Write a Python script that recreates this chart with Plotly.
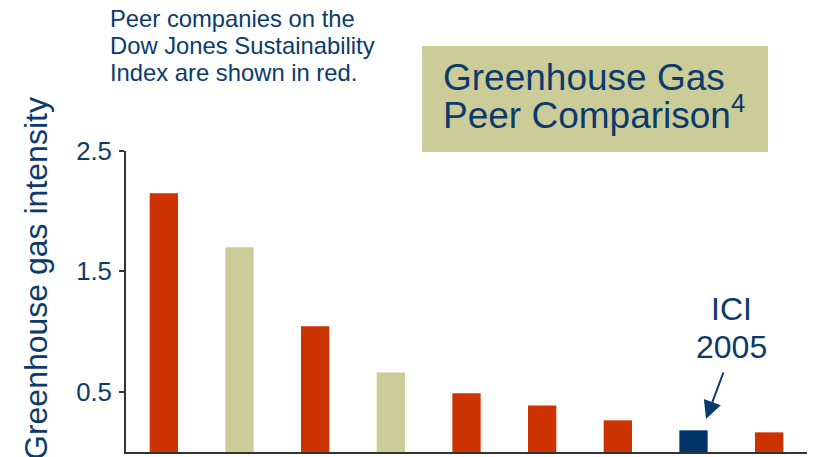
import plotly.graph_objects as go

# ---- data ----
companies = ["Peer 1", "Peer 2", "Peer 3", "Peer 4", "Peer 5", "Peer 6", "Peer 7", "ICI 2005", "Peer 9"]
intensity = [2.15, 1.70, 1.045, 0.66, 0.487, 0.387, 0.263, 0.18, 0.163]
group = ["dj", "other", "dj", "other", "dj", "dj", "dj", "ici", "dj"]
y_ticks = [0.5, 1.5, 2.5]
y_tick_labels = ["0.5", "1.5", "2.5"]

palette = {"dj": "#CC3300", "other": "#CCCC99", "ici": "#003366"}
TXT = "#0B3A6B"
FONT = "Liberation Sans, Arial, sans-serif"

# page body has an 8px default margin; compensate so page coords match the reference
OFF = 8
W, H = 817 - OFF, 457 - OFF
L, R, T, B = 126 - OFF, 10, 151 - OFF, 5
pw, ph = W - L - R, H - T - B


def px(x):
    return (x - OFF - L) / pw


def py(y):
    return (H - B - (y - OFF)) / ph


fig = go.Figure(go.Bar(
    x=companies, y=intensity,
    marker=dict(color=[palette[g] for g in group], line=dict(width=0)),
    hoverinfo="skip",
))

annotations = []
note_lines = ["Peer companies on the", "Dow Jones Sustainability", "Index are shown in red."]
for i, line in enumerate(note_lines):
    annotations.append(dict(text=line, xref="paper", yref="paper", x=px(108), y=py(18.5 + 27 * i),
                            xanchor="left", yanchor="middle", showarrow=False,
                            font=dict(size=23.8, color=TXT, family=FONT)))
annotations.append(dict(text="Greenhouse Gas", xref="paper", yref="paper", x=px(441), y=py(77.2),
                        xanchor="left", yanchor="middle", showarrow=False,
                        font=dict(size=37, color=TXT, family=FONT)))
annotations.append(dict(text="Peer Comparison<sup>4</sup>", xref="paper", yref="paper", x=px(441), y=py(112.5),
                        xanchor="left", yanchor="middle", showarrow=False,
                        font=dict(size=37, color=TXT, family=FONT)))
annotations.append(dict(text="ICI", xref="paper", yref="paper", x=px(731), y=py(309),
                        xanchor="center", yanchor="middle", showarrow=False,
                        font=dict(size=32, color=TXT, family=FONT)))
annotations.append(dict(text="2005", xref="paper", yref="paper", x=px(731), y=py(347.2),
                        xanchor="center", yanchor="middle", showarrow=False,
                        font=dict(size=32, color=TXT, family=FONT)))
annotations.append(dict(text="", xref="paper", yref="paper", x=px(706), y=py(419),
                        ax=18, ay=-48, showarrow=True, arrowhead=2, arrowsize=1.8,
                        arrowwidth=2, arrowcolor=TXT, standoff=0, startstandoff=0))
annotations.append(dict(text="Greenhouse gas intensity", xref="paper", yref="paper", x=px(36), y=py(279),
                        xanchor="center", yanchor="middle", textangle=-90, showarrow=False,
                        font=dict(size=32, color=TXT, family=FONT)))

fig.update_layout(
    width=W, height=H,
    margin=dict(l=L, r=R, t=T, b=B, pad=0),
    paper_bgcolor="white", plot_bgcolor="white",
    showlegend=False,
    bargap=0.626,
    annotations=annotations,
    shapes=[dict(type="rect", xref="paper", yref="paper", x0=px(422), x1=px(768), y0=py(152), y1=py(46),
                 fillcolor="#CCCC99", line=dict(width=0), layer="below")],
    xaxis=dict(range=[-0.5, len(companies) - 0.5], showticklabels=False, ticks="",
               showline=True, linecolor="#333333", linewidth=2, showgrid=False, zeroline=False),
    yaxis=dict(range=[0, 2.5], tickvals=y_ticks, ticktext=y_tick_labels, ticks="outside", ticklen=5,
               tickwidth=2, tickcolor="#333333", showline=True, linecolor="#333333", linewidth=2,
               showgrid=False, zeroline=False, ticklabelstandoff=2,
               tickfont=dict(size=25.7, color=TXT, family=FONT)),
)

fig.write_html("out.html")
